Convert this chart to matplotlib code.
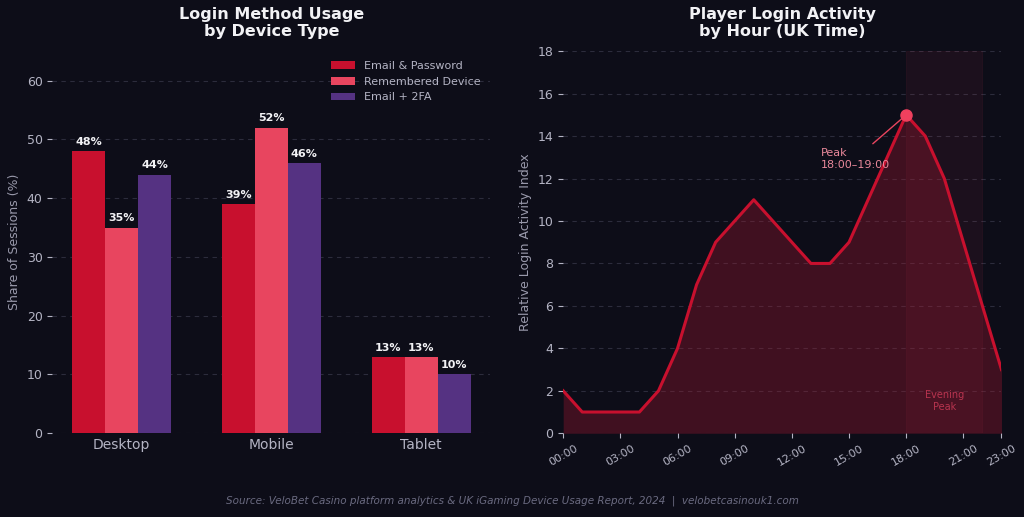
import matplotlib

matplotlib.use("Agg")
import matplotlib.pyplot as plt
import numpy as np

plt.rcParams["font.family"] = ["DejaVu Sans"]

BG = "#0d0d18"
TEXT = "#f2f2f5"
TICK = "#b4b4c4"
GRID = "#2c2c3c"

devices = ["Desktop", "Mobile", "Tablet"]
methods = ["Email & Password", "Remembered Device", "Email + 2FA"]
method_colors = ["#c8102e", "#e8455f", "#553282"]
email_password = [48, 39, 13]
remembered_device = [35, 52, 13]
email_2fa = [44, 46, 10]

hours = list(range(24))
hour_ticks = [0, 3, 6, 9, 12, 15, 18, 21, 23]
hour_labels = ["00:00", "03:00", "06:00", "09:00", "12:00", "15:00", "18:00", "21:00", "23:00"]
activity = [2, 1, 1, 1, 1, 2, 4, 7, 9, 10, 11, 10, 9, 8, 8, 9, 11, 13, 15, 14, 12, 9, 6, 3]
peak_hour = 18
evening_span = (18, 22)


def style_axes(ax):
    ax.set_facecolor(BG)
    for spine in ax.spines.values():
        spine.set_visible(False)
    ax.tick_params(colors=TICK, labelsize=9)
    ax.grid(axis="y", linestyle=(0, (4, 4)), color=GRID, linewidth=0.8)
    ax.set_axisbelow(True)


def draw_bars(ax):
    x = np.arange(len(devices))
    width = 0.22
    series = [email_password, remembered_device, email_2fa]
    for i, (name, values, color) in enumerate(zip(methods, series, method_colors)):
        bars = ax.bar(x + (i - 1) * width, values, width, label=name, color=color)
        ax.bar_label(bars, labels=[f"{v}%" for v in values], padding=3,
                     color=TEXT, fontsize=8, fontweight="bold")
    ax.set_xticks(x)
    ax.set_xticklabels(devices, fontsize=10)
    ax.tick_params(axis="x", length=0)
    ax.set_ylim(0, 65)
    ax.set_yticks([0, 10, 20, 30, 40, 50, 60])
    ax.set_ylabel("Share of Sessions (%)", color="#9a9aac", fontsize=9)
    ax.set_title("Login Method Usage\nby Device Type", color=TEXT,
                 fontsize=11.5, fontweight="bold", pad=11)
    leg = ax.legend(loc="upper right", frameon=False, fontsize=8, handlelength=2.2)
    for t in leg.get_texts():
        t.set_color(TICK)


def draw_activity(ax):
    ax.axvspan(*evening_span, color="#e8455f", alpha=0.07, lw=0.8)
    ax.fill_between(hours, activity, color="#a01830", alpha=0.35, lw=0)
    ax.plot(hours, activity, color="#c8102e", lw=2.2)
    ax.plot(peak_hour, activity[peak_hour], "o", color="#f0405e", ms=8, zorder=5)
    ax.annotate("Peak\n18:00\u201319:00", xy=(peak_hour, activity[peak_hour]),
                xytext=(13.5, 12.5), color="#e8889a", fontsize=8,
                arrowprops=dict(arrowstyle="-", color="#e8455f", lw=1))
    ax.text(sum(evening_span) / 2, 1.0, "Evening\nPeak", color="#b8344f",
            fontsize=7, ha="center", va="bottom")
    ax.set_xlim(0, 23)
    ax.set_ylim(0, 18)
    ax.set_yticks(range(0, 19, 2))
    ax.set_xticks(hour_ticks)
    ax.set_xticklabels(hour_labels, rotation=30, fontsize=8)
    ax.set_ylabel("Relative Login Activity Index", color="#9a9aac", fontsize=9)
    ax.set_title("Player Login Activity\nby Hour (UK Time)", color=TEXT,
                 fontsize=11.5, fontweight="bold", pad=11)


def main():
    fig = plt.figure(figsize=(10.24, 5.17), dpi=100, facecolor=BG)
    ax1 = fig.add_axes([0.051, 0.162, 0.428, 0.739])
    ax2 = fig.add_axes([0.55, 0.162, 0.428, 0.739])
    style_axes(ax1)
    style_axes(ax2)
    draw_bars(ax1)
    draw_activity(ax2)
    fig.text(0.5, 0.027, "Source: VeloBet Casino platform analytics & UK iGaming Device Usage Report, 2024  |  velobetcasinouk1.com",
             ha="center", color="#6a6a80", fontsize=7.5, style="italic")
    fig.savefig("out.png", dpi=100, facecolor=BG)


if __name__ == "__main__":
    main()
